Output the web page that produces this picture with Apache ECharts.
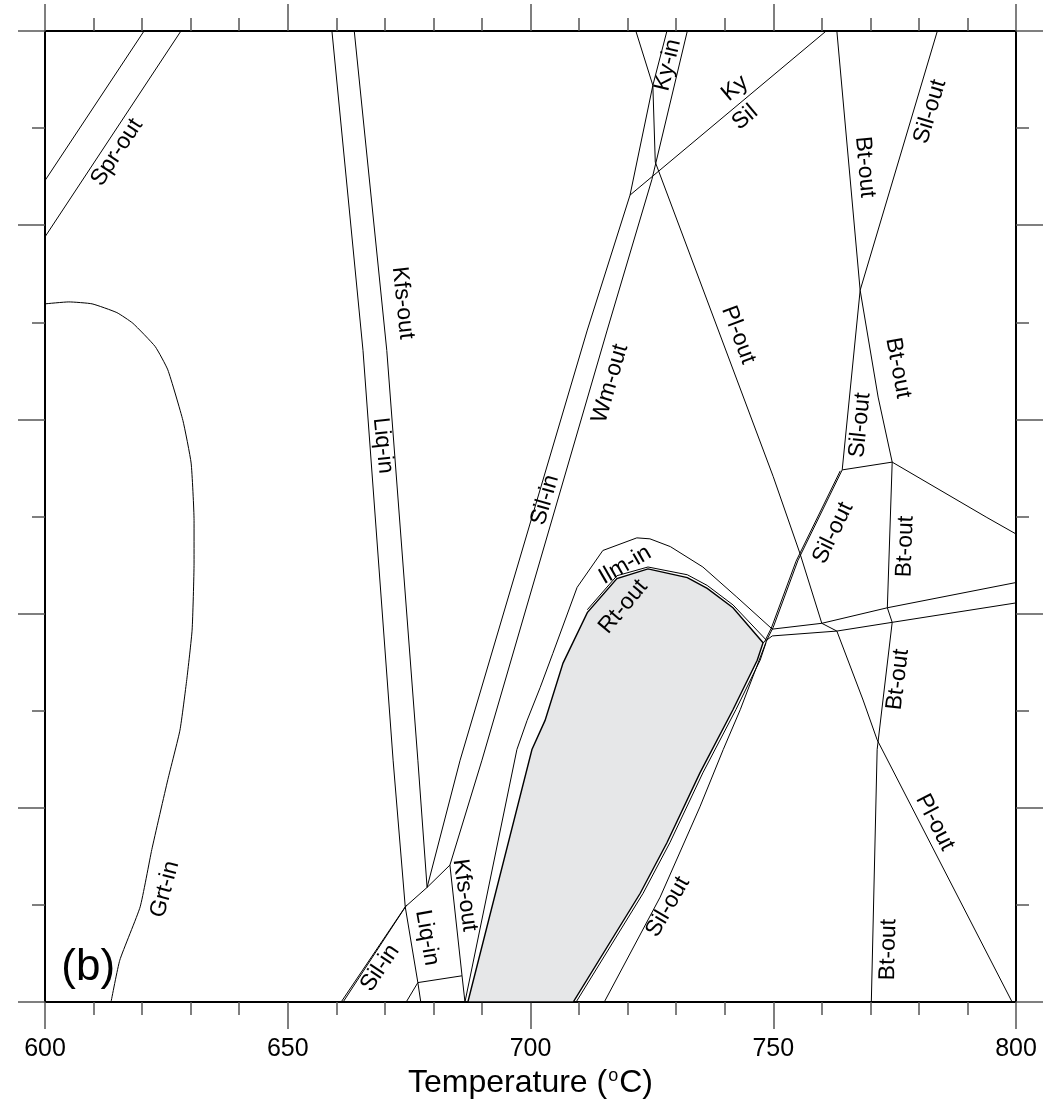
<!DOCTYPE html>
<html><head><meta charset="utf-8">
<script src="https://cdn.jsdelivr.net/npm/echarts@6/dist/echarts.min.js"></script>
<style>html,body{margin:0;padding:0;background:#fff}#c{width:1044px;height:1103px}</style>
</head><body><div id="c"></div>
<script>
// ---- axis ----
const xMin = 600, xMax = 800, xStep = 50;
const yMin = 0, yMax = 10, yStep = 2;

// ---- phase boundaries [T (°C), P (axis units)] ----
const sprOutA = [[620.4,10],[600,8.46]];
const sprOutB = [[628.0,10],[600,7.88]];
const grtIn = [[600,7.19],[604.9,7.21],[609.7,7.19],[614.8,7.10],[618.1,6.99],[622.7,6.75],[625.3,6.51],[628.4,5.99],[630.1,5.55],[630.7,4.96],[630.7,4.52],[630.3,3.83],[629.2,3.32],[627.8,2.80],[625.3,2.29],[622.0,1.57],[619.6,0.98],[615.4,0.43],[613.6,0]];
const liqIn = [[659.1,10],[665.5,6.71],[671.7,2.49],[674.2,0.98],[676.8,0.20],[677.4,0]];
const liqInBranchA = [[676.8,0.20],[674.4,0]];
const liqInBranchB = [[676.8,0.20],[685.9,0.27]];
const kfsOut = [[663.7,10],[670.4,6.71],[676.8,2.49],[678.7,1.18]];
const silInLow = [[661.0,0],[674.2,0.98]];
const silInLow2 = [[661.4,0],[674.5,1.0]];
const tieLow = [[674.2,0.98],[678.7,1.18],[683.4,1.41]];
const silIn = [[678.7,1.18],[685.5,2.49],[711.7,6.92],[720.5,8.31],[725.2,9.44],[728.1,10]];
const wmOut = [[683.4,1.41],[690.0,2.49],[715.8,6.92],[725.0,8.47],[732.3,10]];
const kfsOutLow = [[683.4,1.41],[685.9,0.27],[686.5,0]];
const kyInLeft = [[721.7,10],[725.2,9.44],[725.7,8.65]];
const plOut = [[725.7,8.65],[750.0,5.41],[755.5,4.62],[760.0,3.90],[763.1,3.82],[768.5,3.11],[771.4,2.70],[799.2,0]];
const kySil = [[760.9,10],[720.5,8.31]];
const btOutUp = [[763.1,10],[767.9,7.33],[771.6,6.23],[774.5,5.56]];
const silOutUp = [[783.8,10],[767.9,7.33],[764.2,5.48]];
const tieUp = [[764.2,5.48],[774.5,5.56]];
const rightTie = [[774.5,5.56],[794.0,4.99],[800,4.82]];
const btOutMid = [[774.5,5.56],[773.5,4.06]];
const silOut = [[764.2,5.48],[755.1,4.55],[750.0,3.86],[748.7,3.73],[743.2,3.01],[739.7,2.60],[734.9,2.01],[726.7,1.08],[715.2,0]];
const silOut2 = [[763.8,5.47],[754.7,4.54],[749.6,3.85],[748.3,3.72]];
const upperBand = [[749.8,3.84],[760.0,3.90],[773.5,4.06],[800,4.32]];
const lowerBand = [[747.9,3.70],[749.8,3.77],[763.1,3.82],[774.5,3.91],[800,4.11]];
const btLink = [[773.5,4.06],[774.5,3.91]];
const btOutLow = [[774.5,3.91],[772.6,3.11],[771.4,2.60],[770.2,0]];
const ilmIn = [[686.5,0],[697.2,2.60],[699.3,2.90],[702.0,3.24],[704.6,3.59],[709.6,4.27],[714.9,4.65],[721.9,4.78],[724.6,4.77],[728.8,4.69],[735.5,4.48],[742.5,4.17],[749.8,3.84]];
const rtOutField = [[687.1,0],[700.3,2.60],[703.0,2.90],[706.7,3.49],[711.7,4.01],[717.8,4.36],[724.2,4.46],[732.3,4.37],[736.4,4.26],[741.7,4.06],[747.9,3.70],[746.7,3.52],[741.7,3.01],[734.9,2.36],[728.1,1.64],[722.6,1.12],[708.8,0]];
const rtOut2 = [[711.7,4.04],[717.8,4.39],[724.2,4.48],[732.3,4.40],[736.4,4.29],[741.7,4.09],[748.7,3.72]];
const rtEdge2 = [[709.4,0],[723.2,1.12],[728.7,1.64],[735.5,2.36],[742.3,3.01],[747.3,3.52],[748.5,3.70]];

const boundaries = [sprOutA,sprOutB,grtIn,liqIn,liqInBranchA,liqInBranchB,kfsOut,silInLow,silInLow2,tieLow,silIn,wmOut,kfsOutLow,kyInLeft,plOut,kySil,btOutUp,silOutUp,tieUp,rightTie,btOutMid,silOut,silOut2,upperBand,lowerBand,btLink,btOutLow,ilmIn,rtOut2,rtEdge2];
const smoothCurves = [grtIn];

// ---- field labels ----
const labelText  = ['Spr-out','Kfs-out','Liq-in','Sil-in','Wm-out','Ky-in','Ky','Sil','Pl-out','Bt-out','Sil-out','Bt-out','Sil-out','Sil-out','Bt-out','Bt-out','Pl-out','Bt-out','Ilm-in','Rt-out','Sil-out','Grt-in','Sil-in','Liq-in','Kfs-out'];
const labelT     = [614.8,673.7,669.6,703.0,716.4,728.3,742.1,744.2,742.8,768.9,782.3,775.7,767.9,762.3,777.2,775.7,783.3,773.7,719.5,719.1,728.3,624.7,669.0,678.7,686.5];
const labelP     = [8.75,7.20,5.73,5.17,6.37,9.65,9.41,9.11,6.87,8.60,9.17,6.53,5.94,4.83,4.69,3.32,1.85,0.54,4.50,4.07,0.98,1.16,0.35,0.66,1.10];
const labelAngle = [56.6,-84,-84,73.8,73.8,76.8,39.9,39.9,-69.5,-85,73.4,-79.5,84.3,64,88,83,-63,88.6,30,50,60,75,56,-80,-82];
const panelText = '(b)', panelT = 608.9, panelP = 0.35;

const FONT = 'Liberation Sans, Arial, Helvetica, sans-serif';
const chart = echarts.init(document.getElementById('c'), null, {renderer:'canvas'});

const tickCommon = {
  axisLine:{show:true,onZero:false,lineStyle:{color:'#000',width:2}},
  axisTick:{show:true,inside:false,length:27,lineStyle:{color:'#555',width:1.5}},
  splitLine:{show:false}
};

const series = boundaries.map(function(d){
  return {type:'line',data:d,showSymbol:false,symbol:'none',silent:true,z:3,
    smooth: smoothCurves.indexOf(d) >= 0 ? 0.15 : false,
    lineStyle:{color:'#000',width:1},animation:false};
});
series.unshift({
  type:'custom',silent:true,z:1,animation:false,
  data:[[rtOutField[0][0],rtOutField[0][1]]],
  renderItem:function(params,api){
    const pts = rtOutField.map(function(p){return api.coord(p);});
    return {type:'polygon',shape:{points:pts},style:{fill:'#e6e7e8',stroke:'#000',lineWidth:1.4}};
  }
});
series.push({
  type:'scatter',symbolSize:0,silent:true,z:5,animation:false,
  itemStyle:{opacity:1},
  data:labelText.map(function(t,i){
    return {value:[labelT[i],labelP[i]],label:{show:true,formatter:t,rotate:labelAngle[i],position:'inside',
      fontSize:23,color:'#000',fontFamily:FONT,align:'center',verticalAlign:'middle'}};
  }).concat([{value:[panelT,panelP],label:{show:true,formatter:panelText,position:'inside',fontSize:44,color:'#000',fontFamily:FONT,align:'center',verticalAlign:'middle'}}])
});

chart.setOption({
  animation:false,
  backgroundColor:'#fff',
  grid:{left:45,right:28,top:31,bottom:101,containLabel:false,outerBoundsMode:'none'},
  xAxis:[
    Object.assign({type:'value',min:xMin,max:xMax,interval:xStep,position:'bottom',
      minorTick:{show:true,splitNumber:5,length:13,lineStyle:{color:'#555',width:1.5}},
      minorSplitLine:{show:false},
      axisLabel:{show:true,fontSize:25,color:'#000',margin:35,fontFamily:FONT},
      name:'Temperature ({s|o}C)',nameLocation:'middle',nameGap:62,
      nameTextStyle:{fontSize:32,color:'#000',fontFamily:FONT,
        rich:{s:{fontSize:18,color:'#000',fontFamily:FONT,verticalAlign:'top',padding:[0,1,14,1]}}}
    },tickCommon),
    Object.assign({type:'value',min:xMin,max:xMax,interval:xStep,position:'top',
      minorTick:{show:true,splitNumber:5,length:13,lineStyle:{color:'#555',width:1.5}},
      axisLabel:{show:false}},tickCommon)
  ],
  yAxis:[
    Object.assign({type:'value',min:yMin,max:yMax,interval:yStep,position:'left',
      minorTick:{show:true,splitNumber:2,length:13,lineStyle:{color:'#555',width:1.5}},
      axisLabel:{show:false}},tickCommon),
    Object.assign({type:'value',min:yMin,max:yMax,interval:yStep,position:'right',
      minorTick:{show:true,splitNumber:2,length:13,lineStyle:{color:'#555',width:1.5}},
      axisLabel:{show:false}},tickCommon)
  ],
  series:series
});
</script></body></html>
